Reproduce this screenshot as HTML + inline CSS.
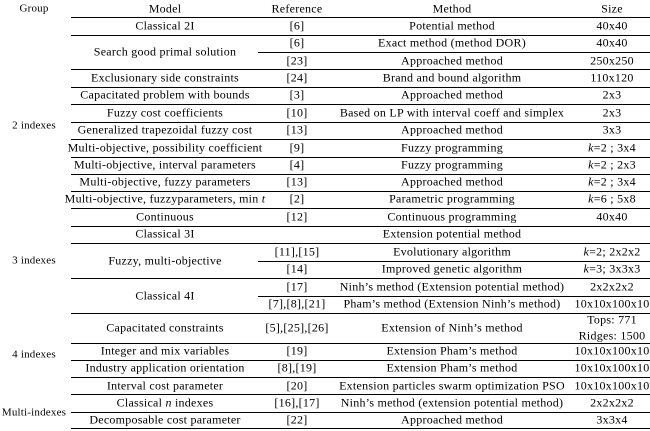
<!DOCTYPE html>
<html><head><meta charset="utf-8"><style>
body{margin:0;width:650px;height:431px;background:#fff;position:relative;overflow:hidden;font-family:"Liberation Serif",serif;font-size:12px;letter-spacing:0.25px;color:#000}
.t{position:absolute;white-space:nowrap;transform:translate(-50%,-50%);line-height:13px;text-align:center}
.g{font-size:11px;letter-spacing:0.2px}
.l{position:absolute;height:1px;background:#000;right:0}
</style></head><body>
<div id="root"></div>
<script>
const lines=[[17,71],[35,71],[52,258],[69,71],[87,71],[104,71],[122,71],[139,71],[157,71],[174,71],[191,71],[208,71],[226,71],[243,71],[261,258],[278,71],[296,258],[313,71],[343,71],[360,71],[377,71],[394,71],[412,71],[428,71]];
const cols={g:34,m:165,r:297,me:452,s:612};
const cells=[
["g",9,"Group"],["m",9,"Model"],["r",9,"Reference"],["me",9,"Method"],["s",9,"Size"],
["m",26,"Classical 2I"],["r",26,"[6]"],["me",26,"Potential method"],["s",26,"40x40"],
["m",52,"Search good primal solution"],["r",43,"[6]"],["me",43,"Exact method (method DOR)"],["s",43,"40x40"],
["r",61,"[23]"],["me",61,"Approached method"],["s",61,"250x250"],
["m",78,"Exclusionary side constraints"],["r",78,"[24]"],["me",78,"Brand and bound algorithm"],["s",78,"110x120"],
["m",95,"Capacitated problem with bounds"],["r",95,"[3]"],["me",95,"Approached method"],["s",95,"2x3"],
["m",113,"Fuzzy cost coefficients"],["r",113,"[10]"],["me",113,"Based on LP with interval coeff and simplex"],["s",113,"2x3"],
["m",130,"Generalized trapezoidal fuzzy cost"],["r",130,"[13]"],["me",130,"Approached method"],["s",130,"3x3"],
["m",148,"Multi-objective, possibility coefficient"],["r",148,"[9]"],["me",148,"Fuzzy programming"],["s",148,"<i>k</i>=2 ; 3x4"],
["m",165,"Multi-objective, interval parameters"],["r",165,"[4]"],["me",165,"Fuzzy programming"],["s",165,"<i>k</i>=2 ; 2x3"],
["m",182,"Multi-objective, fuzzy parameters"],["r",182,"[13]"],["me",182,"Approached method"],["s",182,"<i>k</i>=2 ; 3x4"],
["m",199,"Multi-objective, fuzzyparameters, min <i>t</i>"],["r",199,"[2]"],["me",199,"Parametric programming"],["s",199,"<i>k</i>=6 ; 5x8"],
["m",217,"Continuous"],["r",217,"[12]"],["me",217,"Continuous programming"],["s",217,"40x40"],
["m",234,"Classical 3I"],["me",234,"Extension potential method"],
["m",261,"Fuzzy, multi-objective"],["r",252,"[11],[15]"],["me",252,"Evolutionary algorithm"],["s",252,"<i>k</i>=2; 2x2x2"],
["r",269,"[14]"],["me",269,"Improved genetic algorithm"],["s",269,"<i>k</i>=3; 3x3x3"],
["m",296,"Classical 4I"],["r",287,"[17]"],["me",287,"Ninh’s method (Extension potential method)"],["s",287,"2x2x2x2"],
["r",304,"[7],[8],[21]"],["me",304,"Pham’s method (Extension Ninh’s method)"],["s",304,"10x10x100x10"],
["m",328,"Capacitated constraints"],["r",328,"[5],[25],[26]"],["me",328,"Extension of Ninh’s method"],["s",320,"Tops: 771"],["s",336,"Ridges: 1500"],
["m",351,"Integer and mix variables"],["r",351,"[19]"],["me",351,"Extension Pham’s method"],["s",351,"10x10x100x10"],
["m",368,"Industry application orientation"],["r",368,"[8],[19]"],["me",368,"Extension Pham’s method"],["s",368,"10x10x100x10"],
["m",386,"Interval cost parameter"],["r",386,"[20]"],["me",386,"Extension particles swarm optimization PSO"],["s",386,"10x10x100x10"],
["m",403,"Classical <i>n</i> indexes"],["r",403,"[16],[17]"],["me",403,"Ninh’s method (extension potential method)"],["s",403,"2x2x2x2"],
["m",420,"Decomposable cost parameter"],["r",420,"[22]"],["me",420,"Approached method"],["s",420,"3x3x4"],
["g",126,"2 indexes"],["g",261,"3 indexes"],["g",355,"4 indexes"],["g",413,"Multi-indexes"]
];
const root=document.getElementById('root');
lines.forEach(([y,x])=>{const d=document.createElement('div');


d.className='l';d.style.top=y+'px';d.style.left=x+'px';root.appendChild(d);});
cells.forEach(([c,y,txt])=>{const d=document.createElement('div');


d.className='t'+(c==='g'?' g':'');d.style.left=cols[c]+'px';d.style.top=y+'px';d.innerHTML=txt;root.appendChild(d);});
</script>
</body></html>
